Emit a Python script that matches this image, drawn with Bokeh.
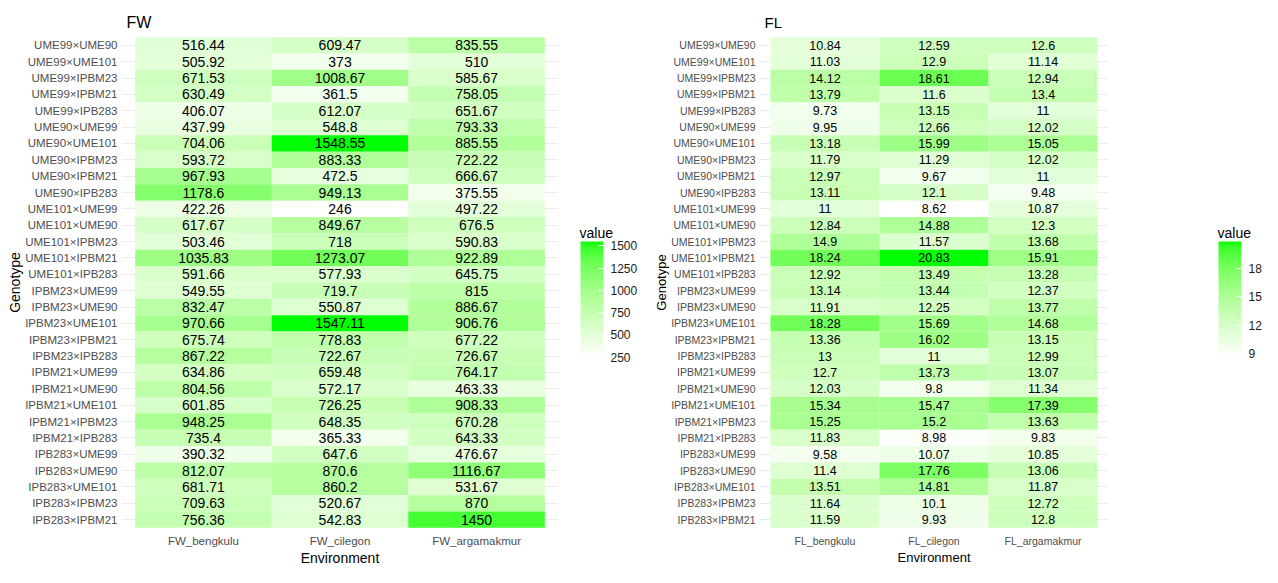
import numpy as np
from bokeh.plotting import figure
from bokeh.models import (ColumnDataSource, FactorRange, LinearColorMapper, FixedTicker,
                          Title, ColorBar, Label)
from bokeh.layouts import row
from bokeh.embed import file_html
from bokeh.resources import INLINE

genotypes = [
    "UME99×UME90", "UME99×UME101", "UME99×IPBM23", "UME99×IPBM21", "UME99×IPB283",
    "UME90×UME99", "UME90×UME101", "UME90×IPBM23", "UME90×IPBM21", "UME90×IPB283",
    "UME101×UME99", "UME101×UME90", "UME101×IPBM23", "UME101×IPBM21", "UME101×IPB283",
    "IPBM23×UME99", "IPBM23×UME90", "IPBM23×UME101", "IPBM23×IPBM21", "IPBM23×IPB283",
    "IPBM21×UME99", "IPBM21×UME90", "IPBM21×UME101", "IPBM21×IPBM23", "IPBM21×IPB283",
    "IPB283×UME99", "IPB283×UME90", "IPB283×UME101", "IPB283×IPBM23", "IPB283×IPBM21",
]

fw_envs = ["FW_bengkulu", "FW_cilegon", "FW_argamakmur"]
fl_envs = ["FL_bengkulu", "FL_cilegon", "FL_argamakmur"]

fw_bengkulu = [516.44, 505.92, 671.53, 630.49, 406.07, 437.99, 704.06, 593.72, 967.93, 1178.6,
               422.26, 617.67, 503.46, 1035.83, 591.66, 549.55, 832.47, 970.66, 675.74, 867.22,
               634.86, 804.56, 601.85, 948.25, 735.4, 390.32, 812.07, 681.71, 709.63, 756.36]
fw_cilegon = [609.47, 373, 1008.67, 361.5, 612.07, 548.8, 1548.55, 883.33, 472.5, 949.13,
              246, 849.67, 718, 1273.07, 577.93, 719.7, 550.87, 1547.11, 778.83, 722.67,
              659.48, 572.17, 726.25, 648.35, 365.33, 647.6, 870.6, 860.2, 520.67, 542.83]
fw_argamakmur = [835.55, 510, 585.67, 758.05, 651.67, 793.33, 885.55, 722.22, 666.67, 375.55,
                 497.22, 676.5, 590.83, 922.89, 645.75, 815, 886.67, 906.76, 677.22, 726.67,
                 764.17, 463.33, 908.33, 670.28, 643.33, 476.67, 1116.67, 531.67, 870, 1450]

fl_bengkulu = [10.84, 11.03, 14.12, 13.79, 9.73, 9.95, 13.18, 11.79, 12.97, 13.11,
               11, 12.84, 14.9, 18.24, 12.92, 13.14, 11.91, 18.28, 13.36, 13,
               12.7, 12.03, 15.34, 15.25, 11.83, 9.58, 11.4, 13.51, 11.64, 11.59]
fl_cilegon = [12.59, 12.9, 18.61, 11.6, 13.15, 12.66, 15.99, 11.29, 9.67, 12.1,
              8.62, 14.88, 11.57, 20.83, 13.49, 13.44, 12.25, 15.69, 16.02, 11,
              13.73, 9.8, 15.47, 15.2, 8.98, 10.07, 17.76, 14.81, 10.1, 9.93]
fl_argamakmur = [12.6, 11.14, 12.94, 13.4, 11, 12.02, 15.05, 12.02, 11, 9.48,
                 10.87, 12.3, 13.68, 15.91, 13.28, 12.37, 13.77, 14.68, 13.15, 12.99,
                 13.07, 11.34, 17.39, 13.63, 9.83, 10.85, 13.06, 11.87, 12.72, 12.8]

fw_ticks = [250, 500, 750, 1000, 1250, 1500]
fl_ticks = [9, 12, 15, 18]

FONT = "Liberation Sans"
H = 567
MB_TOP = 35
MB_BOTTOM = 29
PAD = 0.1

# ---- white -> green gradient interpolated in CIELAB (like ggplot2) ----
M = np.array([[0.4124564, 0.3575761, 0.1804375],
              [0.2126729, 0.7151522, 0.0721750],
              [0.0193339, 0.1191920, 0.9503041]])
Minv = np.linalg.inv(M)
WN = np.array([0.95047, 1.0, 1.08883])


def to_lab(rgb):
    c = np.array(rgb) / 255.0
    lin = np.where(c <= 0.04045, c / 12.92, ((c + 0.055) / 1.055) ** 2.4)
    xyz = M @ lin / WN
    f = np.where(xyz > 216 / 24389, np.cbrt(xyz), (24389 / 27 * xyz + 16) / 116)
    return np.array([116 * f[1] - 16, 500 * (f[0] - f[1]), 200 * (f[1] - f[2])])


def from_lab(lab):
    L, a, b = lab
    fy = (L + 16) / 116
    fx = fy + a / 500
    fz = fy - b / 200
    f = np.array([fx, fy, fz])
    xyz = np.where(f ** 3 > 216 / 24389, f ** 3, (116 * f - 16) / (24389 / 27)) * WN
    lin = np.clip(Minv @ xyz, 0, 1)
    c = np.where(lin <= 0.0031308, 12.92 * lin, 1.055 * lin ** (1 / 2.4) - 0.055)
    r, g, bb = np.clip(np.round(c * 255), 0, 255).astype(int)
    return "#%02x%02x%02x" % (r, g, bb)


LOW = to_lab((255, 255, 255))
HIGH = to_lab((0, 255, 0))
PALETTE = [from_lab(LOW + (i / 255) * (HIGH - LOW)) for i in range(256)]


def make_panel(title, envs, columns, ticks, width, mb_left, mb_right,
               ylab_size, xlab_size, text_size, axis_title_size, title_size, cb_dx):
    vals = [v for col in columns for v in col]
    vmin, vmax = min(vals), max(vals)
    mapper = LinearColorMapper(palette=PALETTE, low=vmin, high=vmax)
    xs, ys, vs, labels = [], [], [], []
    for env, col in zip(envs, columns):
        for g, v in zip(genotypes, col):
            xs.append(env)
            ys.append(g)
            vs.append(v)
            labels.append(f"{v:g}")
    src = ColumnDataSource(dict(x=xs, y=ys, v=vs, label=labels))

    p = figure(width=width, height=H,
               x_range=FactorRange(factors=envs, range_padding=PAD, range_padding_units="absolute"),
               y_range=FactorRange(factors=list(reversed(genotypes)), range_padding=PAD,
                                   range_padding_units="absolute"),
               output_backend="svg", toolbar_location=None, title=title,
               min_border_left=mb_left, min_border_right=mb_right,
               min_border_top=MB_TOP, min_border_bottom=MB_BOTTOM)
    p.rect(x="x", y="y", width=1, height=1, source=src,
           fill_color={"field": "v", "transform": mapper}, line_color=None)
    p.text(x="x", y="y", text="label", source=src, text_align="center", text_baseline="middle",
           text_font_size=f"{text_size}px", text_color="#000000", text_font={"value": FONT})

    p.outline_line_color = None
    p.background_fill_color = "white"
    p.border_fill_color = "white"
    for grid in (p.xgrid, p.ygrid):
        grid.grid_line_color = "#EBEBEB"
        grid.grid_line_width = 1

    for ax in (p.xaxis, p.yaxis):
        ax.axis_line_color = None
        ax.major_tick_line_color = None
        ax.minor_tick_line_color = None
        ax.major_tick_out = 0
        ax.major_tick_in = 0
        ax.major_label_text_color = "#4D4D4D"
        ax.major_label_text_font = FONT
    p.xaxis.major_label_text_font_size = f"{xlab_size}px"
    p.yaxis.major_label_text_font_size = f"{ylab_size}px"
    p.xaxis.major_label_standoff = 5
    p.yaxis.major_label_standoff = 4

    p.title.text_font = FONT
    p.title.text_font_size = f"{title_size}px"
    p.title.text_font_style = "normal"
    p.title.text_color = "#000000"
    p.title.align = "left"
    p.title.offset = 5
    p.title.standoff = 9

    # axis titles
    p.add_layout(Title(text="Environment", align="center", vertical_align="top",
                       text_font=FONT, text_font_size=f"{axis_title_size}px",
                       text_font_style="normal", text_color="#000000",
                       standoff=0, offset=0), "below")
    p.add_layout(Title(text="Genotype", align="center", text_font=FONT,
                       text_font_size=f"{axis_title_size}px", text_font_style="normal",
                       text_color="#000000", standoff=0, offset=0), "left")

    frame_w = width - mb_left - mb_right
    cb = ColorBar(color_mapper=mapper, ticker=FixedTicker(ticks=ticks), width=23, height=116,
                  title=None, major_label_text_font=FONT, major_label_text_font_size="12px",
                  major_label_text_color="#1a1a1a", label_standoff=7,
                  major_tick_line_color="white", major_tick_in=5, major_tick_out=0,
                  bar_line_color=None, border_line_color=None, background_fill_color=None,
                  padding=0, margin=0, location=(frame_w + cb_dx, 172))
    p.add_layout(cb, "center")
    # legend title, in the right-hand side panel
    p.add_layout(Label(x=cb_dx - 1, y=297, x_units="screen", y_units="screen", text="value",
                       text_align="left", text_baseline="alphabetic", text_font=FONT,
                       text_font_size="14px", text_color="#000000"), "right")
    return p


p1 = make_panel("FW", fw_envs, [fw_bengkulu, fw_cilegon, fw_argamakmur], fw_ticks,
                639, 121, 81, 11.5, 11.5, 14, 14, 16, 22)
p2 = make_panel("FL", fl_envs, [fl_bengkulu, fl_cilegon, fl_argamakmur], fl_ticks,
                623, 120, 154, 10.5, 10.5, 12.5, 13, 15, 110)

layout = row(p1, p2)
open("out.html", "w").write(file_html(layout, INLINE))
